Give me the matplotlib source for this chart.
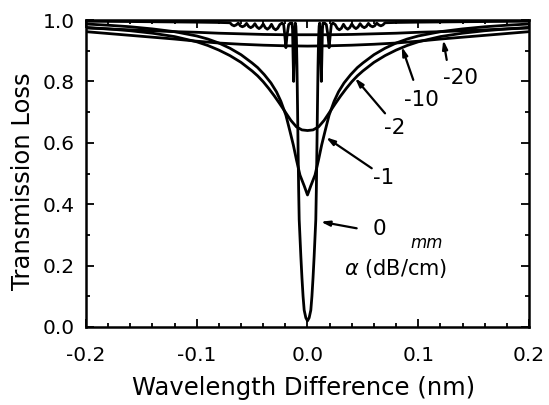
import numpy as np
import matplotlib.pyplot as plt
from matplotlib.ticker import MultipleLocator

# valores, solo el lado positivo (las curvas son simetricas en 0)
dl_0 = [0, 0.0015, 0.003, 0.004, 0.005, 0.006, 0.007, 0.0075, 0.008, 0.0085, 0.009,
        0.0095, 0.010, 0.0105, 0.011, 0.0115, 0.012, 0.0125, 0.013, 0.0135, 0.014,
        0.0155, 0.017, 0.0185, 0.0195, 0.0205, 0.0215, 0.023, 0.025,
        0.0269, 0.02875, 0.0306, 0.0325, 0.0344, 0.03625, 0.0381, 0.040,
        0.0419, 0.04375, 0.0456, 0.0475, 0.0494, 0.05125, 0.0531, 0.055,
        0.0569, 0.05875, 0.0606, 0.0625, 0.0644, 0.06625, 0.0681, 0.070,
        0.08, 0.10, 0.13, 0.16, 0.20]
t_0 = [0.02, 0.03, 0.055, 0.10, 0.16, 0.23, 0.31, 0.35, 0.45, 0.58, 0.72,
       0.85, 0.94, 0.98, 0.99, 0.96, 0.87, 0.80, 0.88, 0.97, 0.99,
       0.99, 0.985, 0.95, 0.91, 0.95, 0.985, 0.99, 0.985,
       0.973, 0.968, 0.973, 0.986, 0.975, 0.970, 0.975, 0.987,
       0.977, 0.972, 0.977, 0.988, 0.979, 0.975, 0.979, 0.989,
       0.981, 0.978, 0.981, 0.990, 0.984, 0.981, 0.984, 0.991,
       0.992, 0.993, 0.994, 0.995, 0.996]

dl_1 = [0, 0.003, 0.0068, 0.010, 0.0128, 0.016, 0.0195, 0.024, 0.028, 0.033, 0.039,
        0.045, 0.05, 0.06, 0.07, 0.08, 0.09, 0.10, 0.12, 0.14, 0.16, 0.18, 0.20]
t_1 = [0.43, 0.46, 0.495, 0.545, 0.593, 0.64, 0.69, 0.735, 0.766, 0.795, 0.822,
       0.845, 0.86, 0.887, 0.908, 0.925, 0.938, 0.948, 0.962, 0.971, 0.978, 0.983, 0.987]

dl_2 = [0, 0.005, 0.010, 0.015, 0.020, 0.025, 0.030, 0.035, 0.040, 0.045, 0.050,
        0.060, 0.070, 0.080, 0.090, 0.100, 0.120, 0.140, 0.160, 0.180, 0.200]
t_2 = [0.640, 0.642, 0.652, 0.673, 0.700, 0.727, 0.753, 0.777, 0.799, 0.818, 0.834,
       0.862, 0.884, 0.902, 0.917, 0.929, 0.946, 0.957, 0.965, 0.971, 0.976]

dl_10 = [0, 0.02, 0.04, 0.06, 0.08, 0.10, 0.12, 0.14, 0.16, 0.18, 0.20]
t_10 = [0.915, 0.916, 0.918, 0.921, 0.925, 0.931, 0.938, 0.944, 0.950, 0.956, 0.962]

dl_20 = [0, 0.02, 0.04, 0.06, 0.08, 0.10, 0.12, 0.14, 0.16, 0.18, 0.20]
t_20 = [0.952, 0.952, 0.953, 0.955, 0.957, 0.960, 0.962, 0.965, 0.968, 0.971, 0.974]

# etiquetas: (texto, posicion del texto, cola de la flecha, punta de la flecha)
etiquetas = [
    ("0", (0.0646, 0.318), (0.0444, 0.3215), (0.0119, 0.343)),
    ("-1", (0.0684, 0.484), (0.058, 0.517), (0.0167, 0.618)),
    ("-2", (0.079, 0.647), (0.070, 0.696), (0.0429, 0.811)),
    ("-10", (0.1031, 0.738), (0.0955, 0.805), (0.0851, 0.913)),
    ("-20", (0.1377, 0.811), (0.1257, 0.870), (0.1226, 0.935)),
]


def espejo(x, y):
    x = np.asarray(x)
    y = np.asarray(y)
    return np.concatenate([-x[::-1], x[1:]]), np.concatenate([y[::-1], y[1:]])


fig = plt.figure(figsize=(5.49, 4.05), dpi=100)
ax = fig.add_axes([0.1566, 0.1926, 0.807, 0.758])

for x, y in [(dl_20, t_20), (dl_10, t_10), (dl_2, t_2), (dl_1, t_1), (dl_0, t_0)]:
    xx, yy = espejo(x, y)
    ax.plot(xx, yy, color='black', lw=2.0, solid_joinstyle='round')

for txt, pos, cola, punta in etiquetas:
    ax.text(pos[0], pos[1], txt, fontsize=15.5, ha='center', va='center')
    ax.annotate('', xy=punta, xytext=cola,
                arrowprops=dict(arrowstyle='-|>,head_length=0.5,head_width=0.15',
                                color='black', lw=1.6, shrinkA=0, shrinkB=0))

ax.text(0.08, 0.19, r"$\alpha$ (dB/cm)", fontsize=15, ha='center', va='center')
ax.text(0.108, 0.272, "mm", fontsize=12, style='italic', ha='center', va='center')

ax.set_xlim(-0.2, 0.2)
ax.set_ylim(0.0, 1.0)
ax.xaxis.set_major_locator(MultipleLocator(0.1))
ax.xaxis.set_minor_locator(MultipleLocator(0.02))
ax.yaxis.set_major_locator(MultipleLocator(0.2))
ax.yaxis.set_minor_locator(MultipleLocator(0.1))
ax.xaxis.set_major_formatter(plt.FuncFormatter(lambda v, p: "%.1f" % v if abs(v) > 1e-9 else "0.0"))
ax.yaxis.set_major_formatter(plt.FuncFormatter(lambda v, p: "%.1f" % v))
ax.tick_params(which='both', direction='in', top=True, right=True, width=1.3, labelsize=14.5)
ax.tick_params(which='major', length=5.5)
ax.tick_params(which='minor', length=3)
ax.tick_params(axis='x', which='major', pad=14)
ax.tick_params(axis='y', which='major', pad=8)
for s in ax.spines.values():
    s.set_linewidth(1.8)

ax.set_xlabel("Wavelength Difference (nm)", fontsize=17.5)
ax.set_ylabel("Transmission Loss", fontsize=17.5)
ax.xaxis.set_label_coords(0.492, -0.16)
ax.yaxis.set_label_coords(-0.114, 0.476)

fig.savefig("out.png", dpi=100)
